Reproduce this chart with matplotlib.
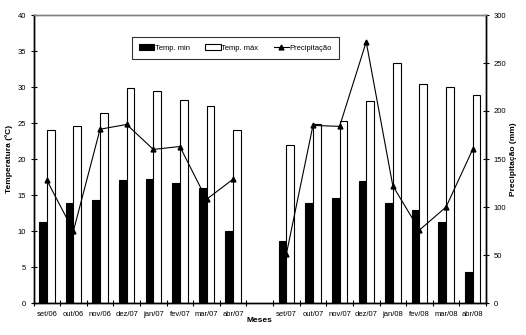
import matplotlib
matplotlib.use("Agg")
import matplotlib.pyplot as plt
import numpy as np

plt.rcParams['font.family'] = ['Liberation Sans', 'DejaVu Sans']

meses = ['set/06', 'out/06', 'nov/06', 'dez/07', 'jan/07', 'fev/07', 'mar/07', 'abr/07', '',
         'set/07', 'out/07', 'nov/07', 'dez/07', 'jan/08', 'fev/08', 'mar/08', 'abr/08']
temp_min = [11.3, 13.9, 14.3, 17.1, 17.2, 16.7, 16.0, 10.0, np.nan,
            8.6, 13.9, 14.6, 16.9, 13.9, 12.9, 11.2, 4.35]
temp_max = [24.0, 24.6, 26.4, 29.8, 29.5, 28.2, 27.4, 24.0, np.nan,
            22.0, 24.8, 25.3, 28.1, 33.4, 30.4, 30.0, 28.9]
precip = [128, 75, 181, 186, 160, 163, 108, 129, np.nan,
          51, 185, 184, 272, 122, 76, 100, 160]

W, H = 526, 335
fig = plt.figure(figsize=(W / 100, H / 100), dpi=100)
ax = fig.add_axes([33.5 / W, 1 - 303 / H, (486 - 33.5) / W, (303 - 15) / H])
ax2 = ax.twinx()

x = np.arange(len(meses))
bw = 0.29
b1 = ax.bar(x - bw / 2, temp_min, width=bw, color='black', edgecolor='black', linewidth=0.8,
            label='Temp. min')
b2 = ax.bar(x + bw / 2, temp_max, width=bw, color='white', edgecolor='black', linewidth=0.8,
            label='Temp. máx')
l1, = ax2.plot(x, precip, color='black', lw=0.8, marker='^', ms=3.5, label='Precipitação')

ax.set_xlim(-0.5, len(meses) - 0.5)
ax.set_ylim(0, 40)
ax2.set_ylim(0, 300)
ax.set_yticks(np.arange(0, 41, 5))
ax2.set_yticks(np.arange(0, 301, 50))

# ticks at category boundaries, labels at centers
ax.set_xticks(np.arange(-0.5, len(meses), 1))
ax.set_xticklabels([])
ax.set_xticks(x, minor=True)
ax.set_xticklabels(meses, minor=True, fontsize=5.5)
ax.tick_params(axis='x', which='minor', length=0, pad=6)
ax.tick_params(axis='x', which='major', direction='inout', length=5, width=0.8)
ax.tick_params(axis='y', direction='inout', length=5, width=0.8, labelsize=5.5, pad=3)
ax2.tick_params(axis='y', direction='inout', length=5, width=0.8, labelsize=5.5, pad=3)

for a in (ax, ax2):
    a.spines['top'].set_color('#808080')
    a.spines['top'].set_linewidth(1)
    for s in ('left', 'right', 'bottom'):
        a.spines[s].set_linewidth(1)
        a.spines[s].set_color('black')

ax.set_xlabel('Meses', fontsize=6, fontweight='bold')
ax.xaxis.set_label_coords(0.5, -0.05)
ax.set_ylabel('Temperatura (ºC)', fontsize=6, fontweight='bold')
ax.yaxis.set_label_coords(-0.045, 0.5)
ax2.set_ylabel('Precipitação (mm)', fontsize=6, fontweight='bold')
ax2.yaxis.set_label_coords(1.052, 0.5)

leg = fig.legend([b1, b2, l1], ['Temp. min', 'Temp. máx', 'Precipitação'],
                 loc='center', bbox_to_anchor=(235.5 / W, 1 - 48 / H), ncol=3,
                 fontsize=5.5, frameon=True, fancybox=False, handlelength=2.0,
                 handleheight=0.8, columnspacing=2.0, handletextpad=0.1,
                 borderpad=0.9)
leg.get_frame().set_edgecolor('black')
leg.get_frame().set_linewidth(0.8)

fig.savefig('out.png', dpi=100)
